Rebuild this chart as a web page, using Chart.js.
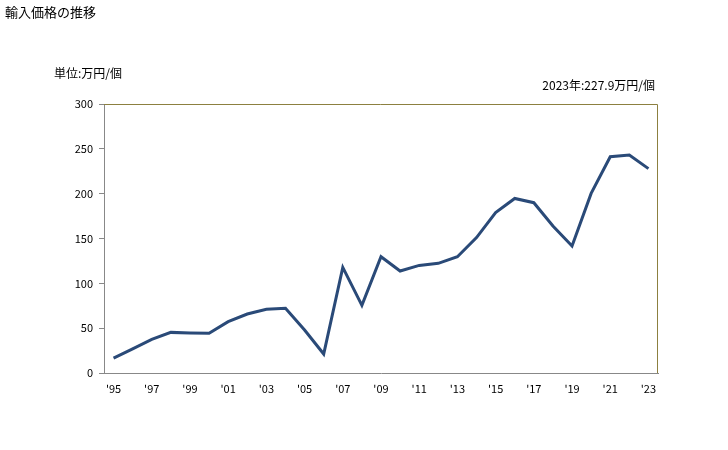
<!DOCTYPE html>
<html><head><meta charset="utf-8">
<script src="https://cdn.jsdelivr.net/npm/chart.js@4"></script>
<style>html,body{margin:0;padding:0;background:#fff}canvas{display:block}</style>
</head><body>
<canvas id="c" width="728" height="450"></canvas>
<script>
const categories = ["1995","1996","1997","1998","1999","2000","2001","2002","2003","2004","2005","2006","2007","2008","2009","2010","2011","2012","2013","2014","2015","2016","2017","2018","2019","2020","2021","2022","2023"];
const tickLabels = ["'95","","'97","","'99","","'01","","'03","","'05","","'07","","'09","","'11","","'13","","'15","","'17","","'19","","'21","","'23"];
const values = [16.5,26.8,37.5,45.3,44.6,44.3,57.2,65.8,71.0,72.1,47.9,21.2,117.8,75.5,129.7,113.7,120.0,122.3,129.7,151.0,179.0,194.7,189.9,163.9,141.6,200.3,241.2,243.0,227.9];
const titleText = "輸入価格の推移";
const unitText = "単位:万円/個";
const noteText = "2023年:227.9万円/個";
const FONT = "'Noto Sans CJK JP', 'DejaVu Sans', sans-serif";

const textPlugin = {
  id: 'texts',
  afterDraw(chart) {
    const ctx = chart.ctx, a = chart.chartArea;
    ctx.save();
    ctx.fillStyle = '#000';
    ctx.textBaseline = 'middle';
    ctx.font = "13px " + FONT;
    ctx.textAlign = 'left';
    ctx.fillText(titleText, 5, 12);
    ctx.font = "12px " + FONT;
    ctx.fillText(unitText, 54, 73);
    ctx.textAlign = 'right';
    ctx.fillText(noteText, 655, 85);
    ctx.strokeStyle = '#8c8040';
    ctx.lineWidth = 1;
    ctx.beginPath();
    ctx.moveTo(a.left, a.top + 0.5);
    ctx.lineTo(a.right - 0.5, a.top + 0.5);
    ctx.lineTo(a.right - 0.5, a.bottom);
    ctx.stroke();
    ctx.restore();
  }
};

new Chart(document.getElementById('c'), {
  type: 'line',
  data: {
    labels: categories,
    datasets: [{
      data: values,
      borderColor: '#2a4a78',
      borderWidth: 3,
      pointRadius: 0,
      tension: 0,
      fill: false
    }]
  },
  options: {
    responsive: false,
    animation: false,
    events: [],
    layout: { padding: { left: 0, right: 70, top: 104, bottom: 0 } },
    plugins: { legend: { display: false }, tooltip: { enabled: false } },
    scales: {
      x: {
        offset: true,
        grid: { display: true, drawOnChartArea: false, drawTicks: false, offset: true },
        border: { color: '#888888', width: 1 },
        ticks: {
          autoSkip: false, maxRotation: 0, padding: 9,
          color: '#000', font: { family: FONT, size: 11 },
          callback: (v, i) => tickLabels[i]
        },
        afterFit: s => { s.height = 77; }
      },
      y: {
        min: 0, max: 300,
        grid: { display: true, drawOnChartArea: false, drawTicks: true, tickLength: 5, color: '#888888' },
        border: { color: '#888888', width: 1 },
        ticks: { stepSize: 50, padding: 6, color: '#000', font: { family: FONT, size: 11 } },
        afterFit: s => { s.width = 104; }
      }
    }
  },
  plugins: [textPlugin]
});
</script>
</body></html>
